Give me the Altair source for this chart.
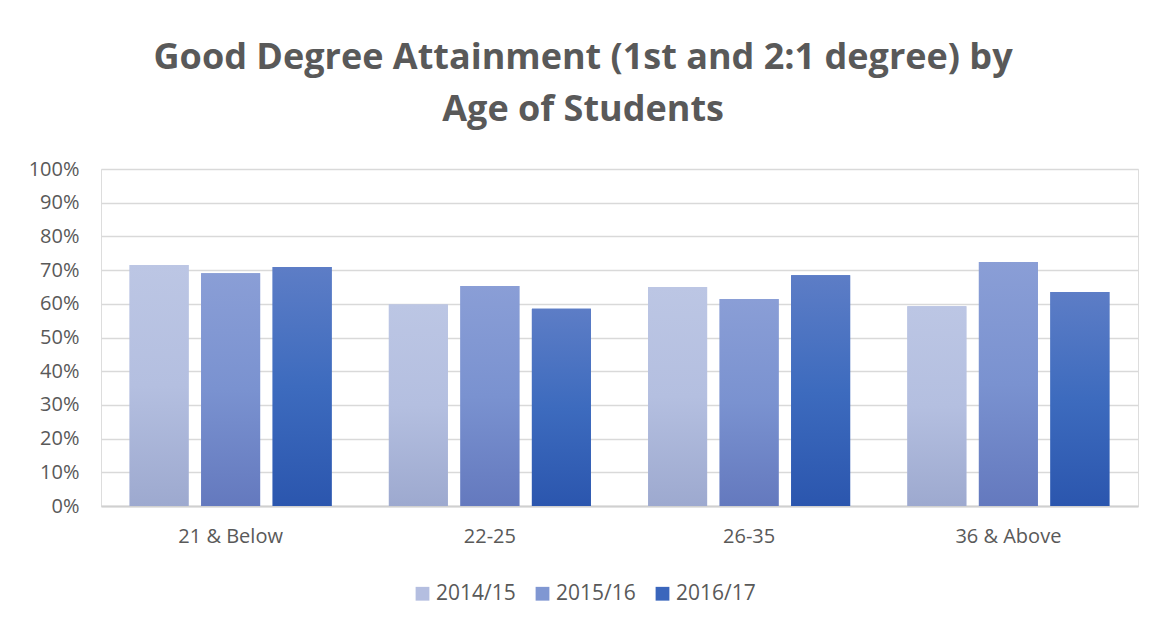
import altair as alt
import pandas as pd

categories = ["21 & Below", "22-25", "26-35", "36 & Above"]
series = ["2014/15", "2015/16", "2016/17"]
v_2014_15 = [0.715, 0.598, 0.650, 0.593]
v_2015_16 = [0.691, 0.653, 0.614, 0.724]
v_2016_17 = [0.709, 0.585, 0.685, 0.635]
y_ticks = [0, 0.1, 0.2, 0.3, 0.4, 0.5, 0.6, 0.7, 0.8, 0.9, 1.0]

solid_colors = ["#B4BEE0", "#8097D2", "#3A66BC"]
gradients = [
    ["#BCC6E4", "#B4BFE0", "#9DA9CF"],
    ["#8A9ED6", "#7A92D0", "#6479BE"],
    ["#5D7DC6", "#3D6BBE", "#2B56AE"],
]

rows = []
for s, vals in zip(series, [v_2014_15, v_2015_16, v_2016_17]):
    for c, v in zip(categories, vals):
        rows.append({"cat": c, "series": s, "value": v})
df = pd.DataFrame(rows)

GRAY = "#595959"
FONT = "Open Sans"

x_enc = alt.X(
    "cat:N",
    sort=categories,
    scale=alt.Scale(domain=categories, paddingInner=0, paddingOuter=0),
    axis=alt.Axis(
        title=None, labelAngle=0, labelFontSize=20, labelColor=GRAY,
        labelPadding=20, ticks=False, domainColor="#D0D0D0", domainWidth=2,
        labelFont=FONT,
    ),
)
xo_enc = alt.XOffset(
    "series:N",
    scale=alt.Scale(domain=series, paddingInner=0.175, paddingOuter=0.4),
)
y_enc = alt.Y(
    "value:Q",
    scale=alt.Scale(domain=[0, 1], nice=False),
    axis=alt.Axis(
        title=None, format=".0%", values=y_ticks, labelFontSize=20,
        labelColor=GRAY, labelPadding=22, ticks=False, domain=False,
        gridColor="#D9D9D9", gridWidth=1.5, labelFont=FONT,
    ),
)

base = alt.Chart(df).mark_bar().encode(
    x=x_enc,
    xOffset=xo_enc,
    y=y_enc,
    color=alt.Color(
        "series:N",
        scale=alt.Scale(domain=series, range=solid_colors),
        legend=alt.Legend(
            orient="none", legendX=311, legendY=414, direction="horizontal",
            title=None, symbolType="square", symbolSize=190,
            labelFontSize=21, labelColor=GRAY, columnPadding=16,
            labelOffset=3, symbolStrokeWidth=0, labelFont=FONT,
        ),
    ),
)

layers = [base]
for s, stops in zip(series, gradients):
    grad = alt.Gradient(
        gradient="linear", x1=0, x2=0, y1=0, y2=1,
        stops=[
            alt.GradientStop(color=stops[0], offset=0),
            alt.GradientStop(color=stops[1], offset=0.5),
            alt.GradientStop(color=stops[2], offset=1),
        ],
    )
    layers.append(
        alt.Chart(df)
        .transform_filter(alt.datum.series == s)
        .mark_bar(fill=grad)
        .encode(x=x_enc, xOffset=xo_enc, y=y_enc)
    )

chart = (
    alt.layer(*layers)
    .properties(
        width=1037,
        height=337,
        padding={"left": 20, "top": 32, "right": 5, "bottom": 5},
        title=alt.TitleParams(
            text=["Good Degree Attainment (1st and 2:1 degree) by", "Age of Students"],
            fontSize=36, fontWeight="bold", color=GRAY, lineHeight=52,
            anchor="middle", frame="bounds", offset=30, font=FONT,
        ),
    )
    .configure_view(stroke=None)
    .configure(font=FONT)
)

chart.save("out.html", embed_options={"renderer": "svg", "actions": False})
